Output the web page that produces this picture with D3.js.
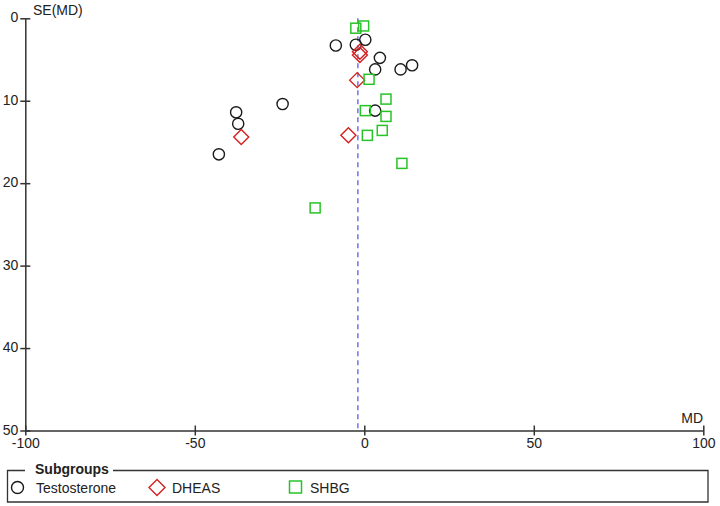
<!DOCTYPE html>
<html><head><meta charset="utf-8">
<script src="https://cdn.jsdelivr.net/npm/d3@7"></script>
<style>body{margin:0;background:#fff}svg{display:block;font-family:"Liberation Sans",Arial,sans-serif}</style>
</head><body><svg id="c" width="720" height="506"></svg>
<script>
const xTicks = [-100, -50, 0, 50, 100];
const yTicks = [0, 10, 20, 30, 40, 50];
const pooledMD = -1.9;
const testosteroneMD = [-8.4, -2.5, 0.3, 4.6, 3.2, 10.7, 14.1, 3.2, -37.8, -37.2, -24.1, -42.9];
const testosteroneSE = [3.3, 3.2, 2.6, 4.8, 6.2, 6.2, 5.7, 11.2, 11.4, 12.8, 10.4, 16.5];
const dheasMD = [-1.3, -1.3, -2.1, -36.3, -4.7];
const dheasSE = [4.05, 4.45, 7.5, 14.4, 14.2];
const shbgMD = [-2.5, -0.2, 1.4, 6.4, 0.3, 6.4, 5.3, 0.9, 11.1, -14.5];
const shbgSE = [1.2, 0.93, 7.4, 9.8, 11.2, 11.9, 13.6, 14.2, 17.6, 23.0];
const subgroups = ["Testosterone", "DHEAS", "SHBG"];

const svg = d3.select("#c");
const x = d3.scaleLinear().domain([-100, 100]).range([25.3, 703.3]);
const y = d3.scaleLinear().domain([0, 50]).range([18.3, 430.5]);
const axisCol = "#333";
const fmt = d => String(d);

// dashed pooled line
svg.append("line").attr("x1", x(pooledMD)).attr("x2", x(pooledMD))
  .attr("y1", y(0)).attr("y2", y(50))
  .attr("stroke", "#7b7bea").attr("stroke-width", 1.6).attr("stroke-dasharray", "5,4");

// axes
const gx = svg.append("g").attr("transform", `translate(0,${y(50)})`)
  .call(d3.axisBottom(x).tickValues(xTicks).tickSize(0).tickPadding(8).tickFormat(fmt));
gx.select(".domain").attr("stroke", axisCol).attr("stroke-width", 1.5);
gx.selectAll(".tick text").attr("font-size", 14).attr("fill", "#222").attr("font-family", "Liberation Sans, Arial, sans-serif");
gx.selectAll(".tick").append("line").attr("y1", -5).attr("y2", 5).attr("stroke", axisCol).attr("stroke-width", 1.5);

const gy = svg.append("g").attr("transform", `translate(${x(-100)},0)`)
  .call(d3.axisLeft(y).tickValues(yTicks).tickSize(0).tickPadding(7).tickFormat(fmt));
gy.select(".domain").attr("stroke", axisCol).attr("stroke-width", 1.5);
gy.selectAll(".tick text").attr("font-size", 14).attr("fill", "#222").attr("dy", "0.25em").attr("font-family", "Liberation Sans, Arial, sans-serif");
gy.selectAll(".tick").append("line").attr("x1", -5).attr("x2", 5).attr("stroke", axisCol).attr("stroke-width", 1.5);

svg.append("text").attr("x", 33).attr("y", 15).attr("font-size", 14).attr("fill", "#222").text("SE(MD)");
svg.append("text").attr("x", 703).attr("y", 423).attr("text-anchor", "end").attr("font-size", 14).attr("fill", "#222").text("MD");

// points
const tData = testosteroneMD.map((m, i) => ({m, s: testosteroneSE[i]}));
const dData = dheasMD.map((m, i) => ({m, s: dheasSE[i]}));
const sData = shbgMD.map((m, i) => ({m, s: shbgSE[i]}));

svg.append("g").selectAll("circle").data(tData).join("circle")
  .attr("cx", d => x(d.m)).attr("cy", d => y(d.s)).attr("r", 5.6)
  .attr("fill", "none").attr("stroke", "#1a1a1a").attr("stroke-width", 1.4);

const dh = 7.5;
svg.append("g").selectAll("path").data(dData).join("path")
  .attr("d", d => `M${x(d.m)},${y(d.s)-dh}L${x(d.m)+dh},${y(d.s)}L${x(d.m)},${y(d.s)+dh}L${x(d.m)-dh},${y(d.s)}Z`)
  .attr("fill", "none").attr("stroke", "#d42020").attr("stroke-width", 1.4);

const sq = 10;
svg.append("g").selectAll("rect").data(sData).join("rect")
  .attr("x", d => x(d.m) - sq/2).attr("y", d => y(d.s) - sq/2).attr("width", sq).attr("height", sq)
  .attr("fill", "none").attr("stroke", "#27c427").attr("stroke-width", 1.5);

// legend
const lg = svg.append("g");
lg.append("path").attr("d", "M25,470.5 L7.5,470.5 L7.5,502 L708,502 L708,470.5 L113,470.5")
  .attr("fill", "none").attr("stroke", axisCol).attr("stroke-width", 1.3);
lg.append("text").attr("x", 35).attr("y", 474).attr("font-size", 14).attr("font-weight", "bold").attr("fill", "#222").text("Subgroups");
const ly = 487.5;
lg.append("circle").attr("cx", 17.5).attr("cy", ly).attr("r", 6).attr("fill", "none").attr("stroke", "#1a1a1a").attr("stroke-width", 1.4);
lg.append("text").attr("x", 36).attr("y", ly + 5).attr("font-size", 14).attr("fill", "#222").text(subgroups[0]);
lg.append("path").attr("d", `M157,${ly-8}L165,${ly}L157,${ly+8}L149,${ly}Z`).attr("fill", "none").attr("stroke", "#d42020").attr("stroke-width", 1.4);
lg.append("text").attr("x", 172).attr("y", ly + 5).attr("font-size", 14).attr("fill", "#222").text(subgroups[1]);
lg.append("rect").attr("x", 289.5).attr("y", ly - 6.5).attr("width", 12).attr("height", 12).attr("fill", "none").attr("stroke", "#27c427").attr("stroke-width", 1.5);
lg.append("text").attr("x", 310).attr("y", ly + 5).attr("font-size", 14).attr("fill", "#222").text(subgroups[2]);
</script></body></html>
